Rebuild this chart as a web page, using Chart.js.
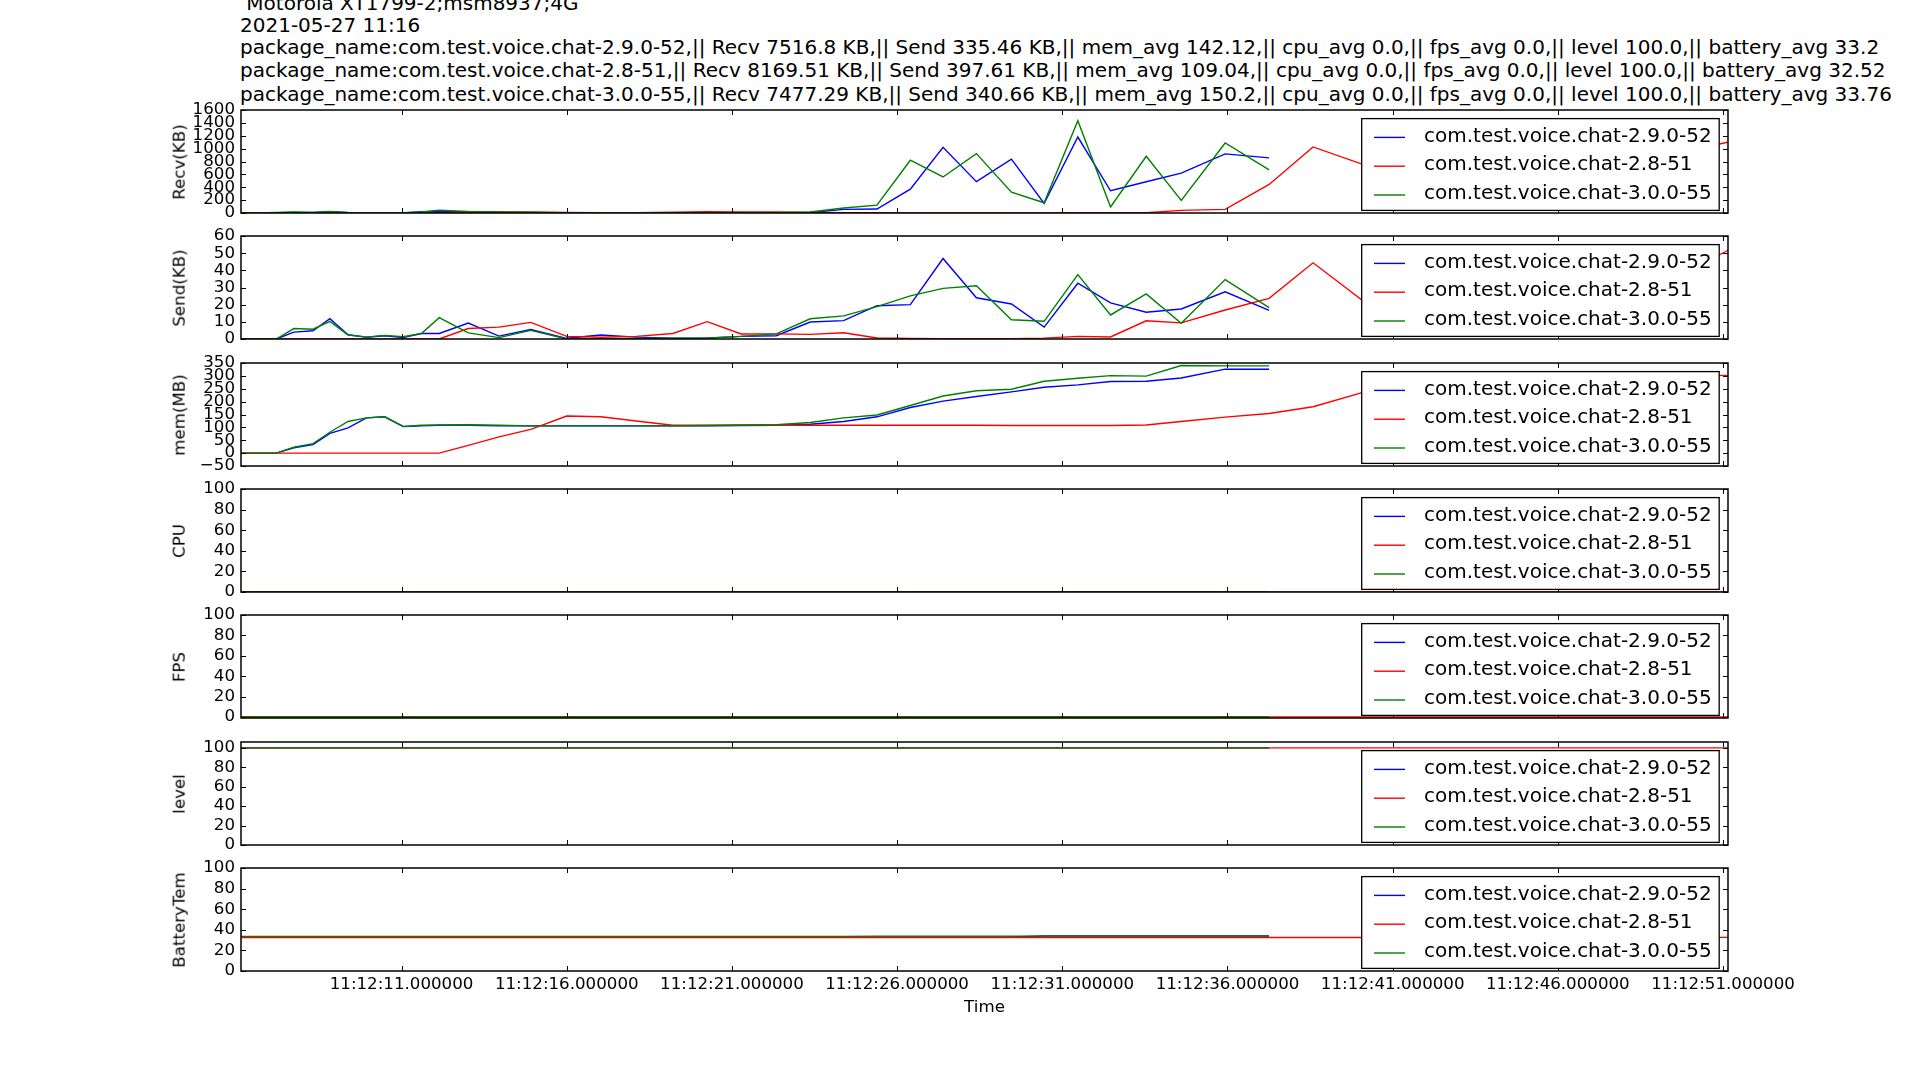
<!DOCTYPE html>
<html><head><meta charset="utf-8">
<script src="https://cdn.jsdelivr.net/npm/chart.js@4.4.0/dist/chart.umd.min.js"></script>
<style>
html,body{margin:0;padding:0;background:#fff;}
body{width:1920px;height:1080px;overflow:hidden;position:relative;font-family:"DejaVu Sans",sans-serif;color:#000;}
.hdr{position:absolute;left:240px;font-size:20px;line-height:20px;white-space:pre;}
.ylab{position:absolute;font-size:16.67px;line-height:16.67px;white-space:nowrap;transform:translate(-50%,-50%) rotate(-90deg);}
.xlab{position:absolute;font-size:16.67px;line-height:16.67px;white-space:nowrap;transform:translate(-50%,-50%);}
canvas{position:absolute;left:0;}
</style></head><body>
<script>
// ---------------- data ----------------
const headerLines = [
  " Motorola XT1799-2;msm8937;4G",
  "2021-05-27 11:16",
  "package_name:com.test.voice.chat-2.9.0-52,|| Recv 7516.8 KB,|| Send 335.46 KB,|| mem_avg 142.12,|| cpu_avg 0.0,|| fps_avg 0.0,|| level 100.0,|| battery_avg 33.2",
  "package_name:com.test.voice.chat-2.8-51,|| Recv 8169.51 KB,|| Send 397.61 KB,|| mem_avg 109.04,|| cpu_avg 0.0,|| fps_avg 0.0,|| level 100.0,|| battery_avg 32.52",
  "package_name:com.test.voice.chat-3.0.0-55,|| Recv 7477.29 KB,|| Send 340.66 KB,|| mem_avg 150.2,|| cpu_avg 0.0,|| fps_avg 0.0,|| level 100.0,|| battery_avg 33.76"
];
const seriesNames = ["com.test.voice.chat-2.9.0-52", "com.test.voice.chat-2.8-51", "com.test.voice.chat-3.0.0-55"];
const panelLabels = ["Recv(KB)", "Send(KB)", "mem(MB)", "CPU", "FPS", "level", "BatteryTem"];
const xAxisTitle = "Time";

// sample times, seconds after 11:12:00
const timeSec = [6.14, 6.66, 7.21, 7.74, 8.32, 8.83, 9.38, 9.94, 10.49, 11.05, 11.6, 12.14, 13.02, 13.95, 14.91, 16.0, 17.03, 18.1, 19.21, 20.25, 21.28, 22.34, 23.37, 24.38, 25.39, 26.4, 27.39, 28.4, 29.46, 30.45, 31.47, 32.46, 33.54, 34.6, 35.93, 37.26, 38.59, 40.05, 41.4, 42.8, 44.2, 45.6, 47.0, 48.4, 49.8, 51.15];
const tickSeconds = [11, 16, 21, 26, 31, 36, 41, 46, 51];
const tickLabels = ["11:12:11.000000", "11:12:16.000000", "11:12:21.000000", "11:12:26.000000", "11:12:31.000000", "11:12:36.000000", "11:12:41.000000", "11:12:46.000000", "11:12:51.000000"];

const recvTicks = [0, 200, 400, 600, 800, 1000, 1200, 1400, 1600];
const sendTicks = [0, 10, 20, 30, 40, 50, 60];
const memTicks = [-50, 0, 50, 100, 150, 200, 250, 300, 350];
const pctTicks = [0, 20, 40, 60, 80, 100];

// Recv (KB)
const recv290 = [0,0,5,10,8,20,5,2,3,2,20,25,15,8,5,2,3,2,3,2,3,5,5,56,62,370,1020,487,836,149,1180,345,485,619,918,856];
const recv28 = [0,0,0,0,0,0,0,0,0,0,0,5,15,15,15,8,5,5,12,20,15,15,10,5,3,2,2,2,2,2,3,3,5,40,57,443,1026,763,820,650,900,700,880,800,960,1100];
const recv300 = [0,0,10,15,8,25,10,3,5,3,15,45,25,15,10,5,3,3,3,2,3,5,15,77,123,820,560,923,323,159,1433,93,881,196,1088,670];
// Send (KB)
const send290 = [0,0,0,4.0,4.8,11.8,2.5,1.0,1.9,0.8,3.2,3.2,9.3,1.7,5.5,0.4,2.3,1.1,0.5,0.5,1.5,1.9,9.9,10.7,19.4,20,46.9,24,20.4,6.9,32.5,21,15.6,17.5,27.5,16.7];
const send28 = [0,0,0,0,0,0,0,0,0,0,0,0,6.1,6.9,9.7,1.5,1.0,1.5,3.2,10.1,2.9,3.0,2.7,3.6,0.6,0.3,0.2,0.2,0.2,0.5,1.5,1.2,10.6,9.4,16.9,23.7,44.4,23,30,20,35,25,40,30,38,51.7];
const send300 = [0,0,0,6.1,5.7,10.3,2.3,1.1,2.1,1.3,3.2,12.4,3.6,0.8,5.0,0,0.2,0.3,0.5,0.6,1.5,3.0,11.8,13.5,18.9,25.1,29.5,31.0,11.2,10.3,37.5,14,26.3,9.2,34.6,18.3];
// mem (MB)
const mem290 = [0,0,0,21,33,77,98,137,141,103,106,108,108,106,106,106,106,106,106,106,107,108,112,123,141,177,202,220,238,256,265,278,279,292,326,326];
const mem28 = [0,0,0,0,0,0,0,0,0,0,0,0,30,63,92,144,141,125,108,108,109,109,108,108,108,108,108,108,107,107,107,107,109,123,140,154,180,234,260,275,285,290,295,298,300,302];
const mem300 = [0,0,0,23,37,81,123,137,141,104,108,109,110,108,106,106,106,106,106,107,108,110,119,137,148,185,222,242,248,279,291,301,299,340,339,339];
// CPU
const cpu290 = [0,0,0,0,0,0,0,0,0,0,0,0,0,0,0,0,0,0,0,0,0,0,0,0,0,0,0,0,0,0,0,0,0,0,0,0];
const cpu28 = [0,0,0,0,0,0,0,0,0,0,0,0,0,0,0,0,0,0,0,0,0,0,0,0,0,0,0,0,0,0,0,0,0,0,0,0,0,0,0,0,0,0,0,0,0,0];
const cpu300 = [0,0,0,0,0,0,0,0,0,0,0,0,0,0,0,0,0,0,0,0,0,0,0,0,0,0,0,0,0,0,0,0,0,0,0,0];
// FPS
const fps290 = [0,0,0,0,0,0,0,0,0,0,0,0,0,0,0,0,0,0,0,0,0,0,0,0,0,0,0,0,0,0,0,0,0,0,0,0];
const fps28 = [0,0,0,0,0,0,0,0,0,0,0,0,0,0,0,0,0,0,0,0,0,0,0,0,0,0,0,0,0,0,0,0,0,0,0,0,0,0,0,0,0,0,0,0,0,0];
const fps300 = [0,0,0,0,0,0,0,0,0,0,0,0,0,0,0,0,0,0,0,0,0,0,0,0,0,0,0,0,0,0,0,0,0,0,0,0];
// level
const level290 = [100,100,100,100,100,100,100,100,100,100,100,100,100,100,100,100,100,100,100,100,100,100,100,100,100,100,100,100,100,100,100,100,100,100,100,100];
const level28 = [100,100,100,100,100,100,100,100,100,100,100,100,100,100,100,100,100,100,100,100,100,100,100,100,100,100,100,100,100,100,100,100,100,100,100,100,100,100,100,100,100,100,100,100,100,100];
const level300 = [100,100,100,100,100,100,100,100,100,100,100,100,100,100,100,100,100,100,100,100,100,100,100,100,100,100,100,100,100,100,100,100,100,100,100,100];
// battery temperature
const batt290 = [33,33,33,33,33,33,33,33,33,33,33,33,33,33,33,33,33,33,33,33,33,33,33,33,33,33,33,33,33,34,34,34,34,34,34,34];
const batt28 = [32.5,32.5,32.5,32.5,32.5,32.5,32.5,32.5,32.5,32.5,32.5,32.5,32.5,32.5,32.5,32.5,32.5,32.5,32.5,32.5,32.5,32.5,32.5,32.5,32.5,32.5,32.5,32.5,32.5,32.5,32.5,32.5,32.5,32.5,32.5,32.5,32.5,32.5,32.5,32.5,32.5,32.5,32.5,32.5,32.5,32.6];
const batt300 = [33.6,33.6,33.6,33.6,33.6,33.6,33.6,33.6,33.6,33.6,33.6,33.6,33.6,33.6,33.6,33.6,33.6,33.6,33.6,33.6,33.6,33.6,33.6,33.6,33.9,33.9,33.9,33.9,33.9,33.9,33.9,33.9,33.9,33.9,33.9,33.9];

// ---------------- layout / style ----------------
const FONT = '"DejaVu Sans", sans-serif';
const seriesColors = ["#0000ff", "#ff0000", "#008000"];
const panelTops = [110, 236, 363, 489, 615, 742, 868];
const PANEL_H = 103, PLOT_L = 241, PLOT_R = 1728, PAD = 12;

const panels = [
  {series: [recv290, recv28, recv300], min: 0, max: 1600, ticks: recvTicks},
  {series: [send290, send28, send300], min: 0, max: 60, ticks: sendTicks},
  {series: [mem290, mem28, mem300], min: -50, max: 350, ticks: memTicks},
  {series: [cpu290, cpu28, cpu300], min: 0, max: 100, ticks: pctTicks},
  {series: [fps290, fps28, fps300], min: -1, max: 100, ticks: pctTicks},
  {series: [level290, level28, level300], min: 0, max: 106, ticks: pctTicks},
  {series: [batt290, batt28, batt300], min: 0, max: 100, ticks: pctTicks}
];

// header text
const hdrCenters = [2.8, 24.6, 46.5, 70, 93.2];
headerLines.forEach((t, i) => {
  const d = document.createElement('div');
  d.className = 'hdr';
  d.textContent = t;
  d.style.top = (hdrCenters[i] - 9.7) + 'px';
  document.body.appendChild(d);
});

const framePlugin = {
  id: 'mplFrame',
  afterDatasetsDraw(chart) {
    const {ctx, chartArea: ca, scales} = chart;
    const xs = scales.x, ys = scales.y;
    ctx.save();
    // inward ticks on all four sides
    ctx.strokeStyle = '#000';
    ctx.lineWidth = 1;
    const L = 5;
    ctx.beginPath();
    tickSeconds.forEach(v => {
      const px = Math.round(xs.getPixelForValue(v)) + 0.5;
      ctx.moveTo(px, ca.top); ctx.lineTo(px, ca.top + L);
      ctx.moveTo(px, ca.bottom); ctx.lineTo(px, ca.bottom - L);
    });
    ys.ticks.forEach(t => {
      const py = Math.round(ys.getPixelForValue(t.value)) + 0.5;
      ctx.moveTo(ca.left, py); ctx.lineTo(ca.left + L, py);
      ctx.moveTo(ca.right, py); ctx.lineTo(ca.right - L, py);
    });
    ctx.stroke();
    // legend box
    const lw = 357.5, lh = 91.8;
    const lx = ca.right - 366.3, ly = ca.top + 8.6;
    ctx.fillStyle = '#fff';
    ctx.fillRect(lx, ly, lw, lh);
    ctx.lineWidth = 1.3;
    ctx.strokeStyle = '#000';
    ctx.strokeRect(lx, ly, lw, lh);
    ctx.font = '20px ' + FONT;
    ctx.textBaseline = 'middle';
    ctx.textAlign = 'left';
    seriesNames.forEach((name, i) => {
      const cy = ly + 18.8 + i * 28.8;
      ctx.strokeStyle = seriesColors[i];
      ctx.lineWidth = 1.4;
      ctx.beginPath();
      ctx.moveTo(lx + 12.3, cy); ctx.lineTo(lx + 43.3, cy);
      ctx.stroke();
      ctx.fillStyle = '#000';
      ctx.fillText(name, lx + 62.3, cy - 1);
    });
    // axes frame
    ctx.strokeStyle = '#000';
    ctx.lineWidth = 1.5;
    ctx.strokeRect(ca.left, ca.top, ca.right - ca.left, ca.bottom - ca.top);
    ctx.restore();
  }
};

panels.forEach((p, pi) => {
  const last = pi === panels.length - 1;
  const cv = document.createElement('canvas');
  const h = PANEL_H + PAD + (last ? 40 : PAD);
  cv.width = 1920; cv.height = h;
  cv.style.width = '1920px'; cv.style.height = h + 'px';
  cv.style.top = (panelTops[pi] - PAD) + 'px';
  document.body.appendChild(cv);

  const lab = document.createElement('div');
  lab.className = 'ylab';
  lab.textContent = panelLabels[pi];
  lab.style.left = '180px';
  lab.style.top = (panelTops[pi] + PANEL_H / 2) + 'px';
  document.body.appendChild(lab);

  const datasets = p.series.map((vals, si) => ({
    label: seriesNames[si],
    data: vals.map((v, k) => ({x: timeSec[k], y: v})),
    borderColor: seriesColors[si],
    backgroundColor: seriesColors[si],
    borderWidth: 1.4,
    pointRadius: 0,
    tension: 0,
    fill: false,
    order: 3 - si
  }));

  new Chart(cv, {
    type: 'line',
    data: {datasets},
    plugins: [framePlugin],
    options: {
      responsive: false,
      animation: false,
      devicePixelRatio: 1,
      layout: {padding: {left: 0, right: 1920 - PLOT_R, top: PAD, bottom: last ? 0 : PAD}},
      plugins: {legend: {display: false}, tooltip: {enabled: false}},
      scales: {
        x: {
          type: 'linear',
          min: timeSec[0],
          max: timeSec[timeSec.length - 1],
          display: last,
          grid: {display: false, drawTicks: false},
          border: {display: false},
          afterBuildTicks: s => { s.ticks = tickSeconds.map(v => ({value: v})); },
          afterFit: s => { if (last) s.height = 40; s.paddingLeft = 0; s.paddingRight = 0; },
          ticks: {
            autoSkip: false, maxRotation: 0, minRotation: 0, padding: 4,
            color: '#000', font: {family: FONT, size: 16.67},
            callback: v => { const k = tickSeconds.indexOf(v); return k >= 0 ? tickLabels[k] : ''; }
          }
        },
        y: {
          type: 'linear',
          min: p.min, max: p.max,
          grid: {display: false, drawTicks: false},
          border: {display: false},
          afterBuildTicks: s => { s.ticks = p.ticks.map(v => ({value: v})); },
          afterFit: s => { s.width = PLOT_L; s.paddingTop = 0; s.paddingBottom = 0; },
          ticks: {
            autoSkip: false,
            padding: 6, color: '#000', font: {family: FONT, size: 16.67},
            callback: v => (v < 0 ? '\u2212' + Math.abs(v) : String(v))
          }
        }
      }
    }
  });
});

const xl = document.createElement('div');
xl.className = 'xlab';
xl.textContent = xAxisTitle;
xl.style.left = ((PLOT_L + PLOT_R) / 2) + 'px';
xl.style.top = '1007px';
document.body.appendChild(xl);
</script>
</body></html>
